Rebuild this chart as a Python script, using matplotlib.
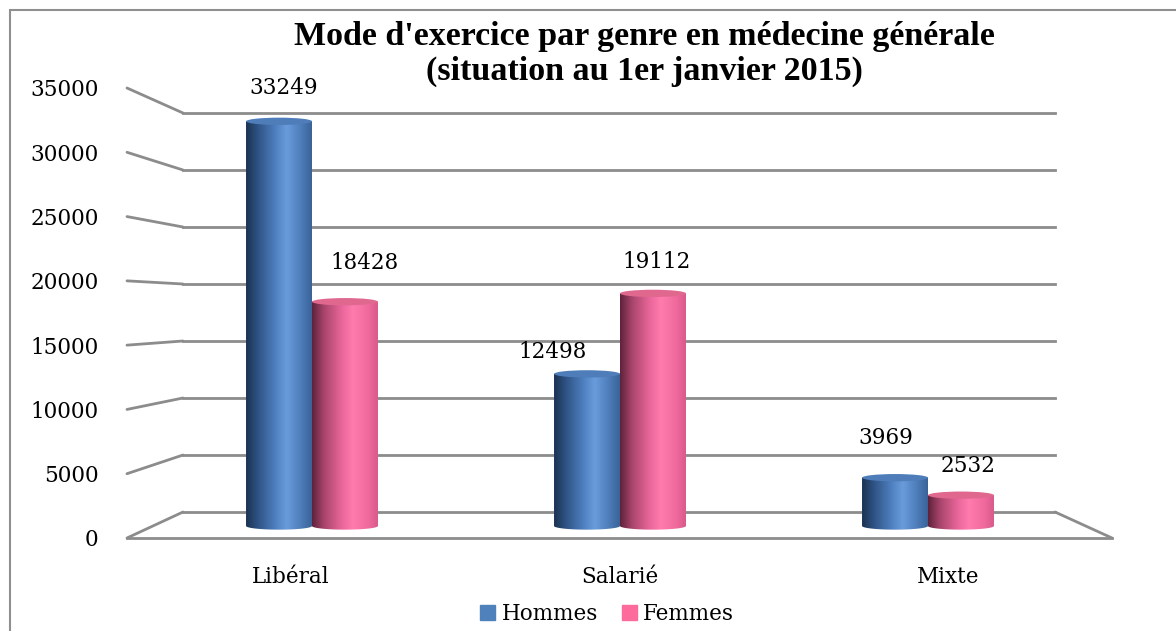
import matplotlib.pyplot as plt
import numpy as np
from matplotlib.patches import Rectangle, Ellipse, PathPatch, Patch, ConnectionPatch
from matplotlib.path import Path

# données
categories = ['Libéral', 'Salarié', 'Mixte']
hommes = [33249, 12498, 3969]
femmes = [18428, 19112, 2532]
yticks = [0, 5000, 10000, 15000, 20000, 25000, 30000, 35000]
series_names = ['Hommes', 'Femmes']
title_lines = ["Mode d'exercice par genre en médecine générale", "(situation au 1er janvier 2015)"]

W, H = 1176, 631
fig = plt.figure(figsize=(W / 100, H / 100), dpi=100)
fig.patch.set_facecolor('white')
serif = 'DejaVu Serif'
grid_col = '#8c8c8c'


def px_axes(x0, ytop, x1, ybot, **kw):
    return fig.add_axes([x0 / W, 1 - ybot / H, (x1 - x0) / W, (ybot - ytop) / H], **kw)


# cadre extérieur
fig.patches.append(Rectangle((10 / W, -0.1), 1.2, 1 - 10 / H + 0.1, transform=fig.transFigure,
                             fill=False, edgecolor='#8f8f8f', lw=1.5))

# mur du fond (grille)
ax_back = px_axes(183, 113, 1055, 512)
ax_back.set_ylim(0, 35000)
ax_back.set_xlim(0, 1)
ax_back.set_yticks(yticks)
ax_back.yaxis.grid(True, color=grid_col, lw=2)
for gl in ax_back.get_ygridlines():
    gl.set_clip_on(False)
ax_back.tick_params(left=False, labelleft=False, bottom=False, labelbottom=False)
for s in ax_back.spines.values():
    s.set_visible(False)
ax_back.patch.set_alpha(0)

# axe avant (graduations + catégories)
ax_front = px_axes(127, 88, 1112, 538)
ax_front.set_ylim(0, 35000)
ax_front.set_xlim(-0.5, 2.5)
ax_front.set_yticks(yticks)
ax_front.set_yticklabels([str(t) for t in yticks], fontsize=15.5, family=serif)
ax_front.set_xticks(range(len(categories)))
ax_front.set_xticklabels(categories, fontsize=15.5, family=serif)
ax_front.tick_params(left=False, bottom=False, pad=17)
ax_front.tick_params(axis='x', pad=17)
for k, s in ax_front.spines.items():
    s.set_visible(k == 'bottom')
ax_front.spines['bottom'].set_color(grid_col)
ax_front.spines['bottom'].set_linewidth(2)
ax_front.patch.set_alpha(0)

# lignes obliques entre l'avant et le fond
for t in yticks:
    fig.add_artist(ConnectionPatch(xyA=(0, t), coordsA=ax_front.get_yaxis_transform(),
                                   xyB=(0, t), coordsB=ax_back.get_yaxis_transform(),
                                   color=grid_col, lw=2))
fig.add_artist(ConnectionPatch(xyA=(1, 0), coordsA=ax_front.get_yaxis_transform(),
                               xyB=(1, 0), coordsB=ax_back.get_yaxis_transform(),
                               color=grid_col, lw=2))

# barres (cylindres) ; l'axe descend un peu sous 0 pour le fond arrondi
ymin = -1000
ax = px_axes(158, 100, 1082, 526 - ymin * 426 / 35000)
ax.set_xlim(-0.5, 2.5)
ax.set_ylim(ymin, 35000)
ax.axis('off')
ax.patch.set_alpha(0)

bw = 0.214
x = np.arange(len(categories))
blue_stops = [(0, '#1c3250'), (0.18, '#2f5385'), (0.45, '#4f80c0'), (0.62, '#6a9bdb'),
              (0.82, '#4f7fbc'), (1, '#3a6398')]
pink_stops = [(0, '#5e223b'), (0.18, '#a8456b'), (0.45, '#e8669a'), (0.62, '#ff7bad'),
              (0.85, '#f06a9e'), (1, '#d95a8b')]
top_cols = ['#4e7db9', '#e0688f']
base_cols = ['#4f81bd', '#fd6a9c']
ell_h = 600


def gradient(stops, n=200):
    pos = [p for p, _ in stops]
    rgb = np.array([plt.matplotlib.colors.to_rgb(c) for _, c in stops])
    xs = np.linspace(0, 1, n)
    return np.stack([np.interp(xs, pos, rgb[:, i]) for i in range(3)], axis=-1)[None, :, :]


label_offsets = [[(5, 33), (-34, 22), (-9, 40)], [(20, 39), (4, 31), (7, 29)]]

for si, (vals, stops) in enumerate([(hommes, blue_stops), (femmes, pink_stops)]):
    bars = ax.bar(x + (si - 0.5) * bw, vals, width=bw, color=base_cols[si], zorder=2)
    img = gradient(stops)
    for bi, b in enumerate(bars):
        x0, w, h = b.get_x(), b.get_width(), b.get_height()
        th = np.linspace(np.pi, 2 * np.pi, 30)
        arc = np.column_stack([x0 + w / 2 + w / 2 * np.cos(th), ell_h / 2 * np.sin(th)])
        verts = np.vstack([[x0, h], arc, [x0 + w, h], [x0, h]])
        codes = [Path.MOVETO] + [Path.LINETO] * (len(verts) - 2) + [Path.CLOSEPOLY]
        clip = PathPatch(Path(verts, codes), transform=ax.transData, fc='none', ec='none')
        ax.add_patch(clip)
        im = ax.imshow(img, extent=(x0, x0 + w, -ell_h, h), aspect='auto',
                       interpolation='bilinear', zorder=3)
        im.set_clip_path(clip)
        ax.add_patch(Ellipse((x0 + w / 2, h), w, ell_h, fc=top_cols[si], ec='none', zorder=4))
        dx, dy = label_offsets[si][bi]
        ax.annotate(str(vals[bi]), xy=(x0 + w / 2, h), xytext=(dx, dy),
                    textcoords='offset pixels', ha='center', va='center',
                    fontsize=15.5, family=serif, annotation_clip=False)
ax.set_xlim(-0.5, 2.5)
ax.set_ylim(ymin, 35000)

# titre (deux lignes)
for line, yc in zip(title_lines, [37, 71]):
    fig.text(644 / W, 1 - yc / H, line, ha='center', va='center', fontsize=24.5,
             fontweight='bold', family='Liberation Serif')

# légende
handles = [Patch(color=base_cols[i], label=series_names[i]) for i in range(2)]
fig.legend(handles=handles, loc='center', bbox_to_anchor=(607 / W, 1 - 614 / H), ncol=2,
           frameon=False, prop={'family': serif, 'size': 15.5}, handlelength=0.7,
           handleheight=0.7, handletextpad=0.3, columnspacing=1.1)

fig.savefig('out.png', dpi=100)
